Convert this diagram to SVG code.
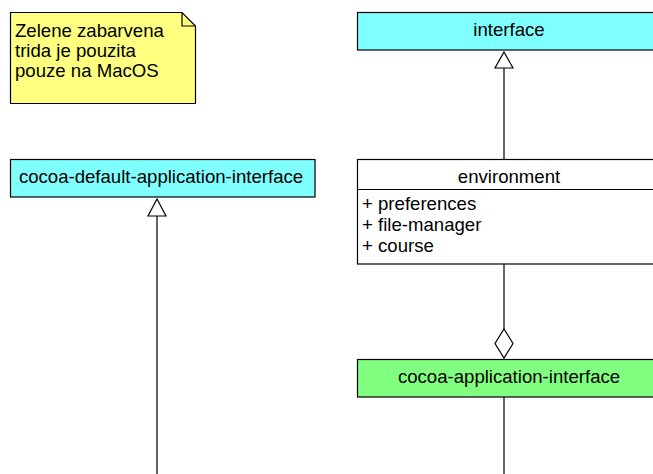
<svg xmlns="http://www.w3.org/2000/svg" width="653" height="474" viewBox="0 0 653 474">
<style>
text{font-family:"Liberation Sans",Arial,sans-serif;font-size:18.6px;fill:#000}
.c{text-anchor:middle}
.box{stroke:#000;stroke-width:1.2}
.ln{stroke:#333;stroke-width:1.5;fill:none}
.hd{fill:#fff;stroke:#000;stroke-width:1.2}
</style>
<rect width="653" height="474" fill="#fff"/>
<g id="note">
<path d="M10.5,12.5 H182 L195.5,26 V103.5 H10.5 Z" fill="#ffff80" class="box"/>
<path d="M182,12.5 V26 H195.5" fill="none" stroke="#000" stroke-width="1.2"/>
<text x="15" y="37">Zelene zabarvena</text>
<text x="15" y="57">trida je pouzita</text>
<text x="15" y="77">pouze na MacOS</text>
</g>
<g id="connectors">
<line class="ln" x1="504" y1="68" x2="504" y2="159"/>
<path class="hd" d="M504,52 L513,68 L495,68 Z"/>
<line class="ln" x1="504" y1="264" x2="504" y2="329"/>
<path class="hd" d="M504,329 L513,343.5 L504,358 L495,343.5 Z"/>
<line class="ln" x1="504" y1="397" x2="504" y2="474"/>
<line class="ln" x1="157" y1="216" x2="157" y2="474"/>
<path class="hd" d="M157,199 L166,216 L148,216 Z"/>
</g>
<g id="interface">
<rect x="357.5" y="12.5" width="305" height="37.5" fill="#80ffff" class="box"/>
<text class="c" x="509" y="35.5">interface</text>
</g>
<g id="cocoa-default-application-interface">
<rect x="10.5" y="159.5" width="304.5" height="37.5" fill="#80ffff" class="box"/>
<text class="c" x="161" y="182.5">cocoa-default-application-interface</text>
</g>
<g id="environment">
<rect x="357.5" y="159.5" width="305" height="104.5" fill="#fff" class="box"/>
<line x1="357.5" y1="189.5" x2="662" y2="189.5" stroke="#000" stroke-width="1.2"/>
<text class="c" x="509" y="182.5">environment</text>
<text x="362" y="210">+ preferences</text>
<text x="362" y="231">+ file-manager</text>
<text x="362" y="252">+ course</text>
</g>
<g id="cocoa-application-interface">
<rect x="357.5" y="359.5" width="305" height="37.5" fill="#80ff80" class="box"/>
<text class="c" x="509" y="382.5">cocoa-application-interface</text>
</g>
</svg>
